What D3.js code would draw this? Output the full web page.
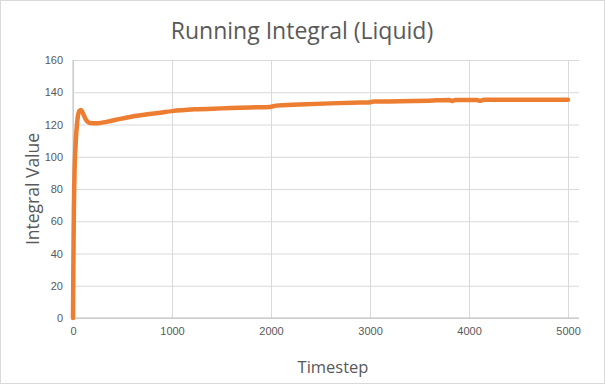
<!DOCTYPE html>
<html>
    <head>
        <meta charset="utf-8">
        <title>Running Integral (Liquid)</title>
        <style type="text/css">
            body {
                margin: 0;
                background-color: #ffffff;
            }

            svg {
                display: block;
                font-family: "Open Sans", sans-serif;
            }

            .tick text {
                fill: #595959;
                font-size: 11px;
            }
        </style>
        <script src="https://d3js.org/d3.v7.min.js"></script>
    </head>

    <body>
        <svg id="chart" width="605" height="384"></svg>

        <script>
            // values
            const timesteps = [0, 3, 6, 9, 12, 16, 20, 25, 30, 40, 50, 65, 80, 100, 130, 170, 250, 350, 475, 600, 750, 880, 1000, 1230, 1500, 1790, 1990, 2050, 2290, 2600, 2900, 2990, 3040, 3300, 3600, 3800, 3830, 3860, 3900, 4000, 4080, 4110, 4150, 4500, 5000];
            const integral = [0, 25, 50, 68, 80, 92, 100, 106, 112, 120, 125.5, 128.5, 129, 127, 123, 121, 120.8, 121.8, 123.5, 125, 126.3, 127.3, 128.3, 129.4, 130, 130.6, 130.9, 131.7, 132.4, 133.1, 133.6, 133.7, 134.2, 134.4, 134.8, 135.2, 134.6, 135.2, 135.2, 135.2, 135.2, 134.7, 135.3, 135.4, 135.4];

            const xTicks = [0, 1000, 2000, 3000, 4000, 5000];
            const yTicks = [0, 20, 40, 60, 80, 100, 120, 140, 160];

            const W = 605, H = 384;
            const plotLeft = 73, plotRight = 579, plotTop = 60, plotBottom = 318;

            const svg = d3.select("#chart");

            svg.append("rect")
                .attr("x", 0.5).attr("y", 0.5)
                .attr("width", W - 1).attr("height", H - 1)
                .attr("fill", "#ffffff")
                .attr("stroke", "#d9d9d9");

            const x = d3.scaleLinear().domain([0, 5111]).range([plotLeft, plotRight]);
            const y = d3.scaleLinear().domain([0, 160]).range([plotBottom, plotTop]);

            // horizontal gridlines
            svg.append("g")
                .attr("transform", `translate(${plotLeft},0)`)
                .call(d3.axisLeft(y).tickValues(yTicks).tickSize(-(plotRight - plotLeft)).tickPadding(10))
                .call(g => g.select(".domain").remove())
                .call(g => g.selectAll(".tick line").attr("stroke", "#d9d9d9"));

            // vertical gridlines
            svg.append("g")
                .attr("transform", `translate(0,${plotBottom})`)
                .call(d3.axisBottom(x).tickValues(xTicks).tickSize(-(plotBottom - plotTop)).tickPadding(9).tickFormat(d3.format("d")))
                .call(g => g.select(".domain").remove())
                .call(g => g.selectAll(".tick line").attr("stroke", "#d9d9d9"));

            // axis lines
            svg.append("line")
                .attr("x1", plotLeft).attr("x2", plotRight)
                .attr("y1", plotBottom).attr("y2", plotBottom)
                .attr("stroke", "#bfbfbf");
            svg.append("line")
                .attr("x1", plotLeft).attr("x2", plotLeft)
                .attr("y1", plotTop).attr("y2", plotBottom)
                .attr("stroke", "#bfbfbf");

            const line = d3.line()
                .x((d, i) => x(timesteps[i]))
                .y(d => y(d))
                .curve(d3.curveMonotoneX);

            svg.append("path")
                .datum(integral)
                .attr("d", line)
                .attr("fill", "none")
                .attr("stroke", "#ed7d31")
                .attr("stroke-width", 4.5)
                .attr("stroke-linejoin", "round")
                .attr("stroke-linecap", "round");

            svg.append("text")
                .text("Running Integral (Liquid)")
                .attr("x", 302).attr("y", 39)
                .attr("text-anchor", "middle")
                .attr("fill", "#595959")
                .attr("font-size", 23);

            svg.append("text")
                .text("Timestep")
                .attr("x", 333).attr("y", 373)
                .attr("text-anchor", "middle")
                .attr("fill", "#595959")
                .attr("font-size", 16.5);

            svg.append("text")
                .text("Integral Value")
                .attr("transform", "translate(39,189) rotate(-90)")
                .attr("text-anchor", "middle")
                .attr("fill", "#595959")
                .attr("font-size", 17.5);
        </script>
    </body>
</html>
